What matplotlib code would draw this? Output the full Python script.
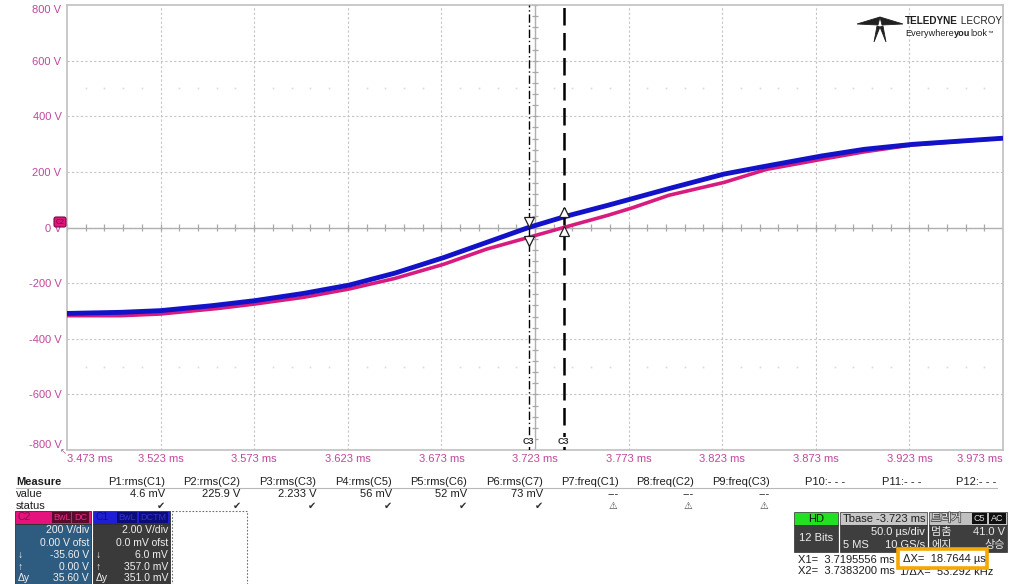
import numpy as np
import matplotlib
matplotlib.use("Agg")
import matplotlib.pyplot as plt
import matplotlib.patheffects as pe
from matplotlib.patches import Rectangle, FancyBboxPatch, Polygon

plt.rcParams['font.family'] = ['Liberation Sans', 'DejaVu Sans', 'Noto Sans CJK KR']

# ---- waveform data (time in ms, voltage in V) ----
c1_time = [3.473, 3.5018, 3.5229, 3.5506, 3.5734, 3.5994, 3.6238, 3.6482,
           3.6743, 3.6970, 3.7195556, 3.7393, 3.7620, 3.7751, 3.7946, 3.8239,
           3.8467, 3.8760, 3.8988, 3.9248, 3.9508, 3.973]
c1_volt = [-309, -305, -299, -281, -263, -237, -207, -164,
           -108, -54, 0, 40, 80, 104, 140, 192,
           221, 257, 281, 299, 311, 321]

c2_time = [3.473, 3.5018, 3.5229, 3.5538, 3.5734, 3.5994, 3.6238, 3.6482,
           3.6743, 3.6970, 3.7195556, 3.7383200, 3.7620, 3.7751, 3.7946, 3.8239,
           3.8467, 3.8760, 3.8988, 3.9248, 3.9508, 3.973]
c2_volt = [-317, -317, -311, -291, -275, -251, -221, -183,
           -132, -78, -35.6, 0.0, 44, 71, 116, 162,
           209, 245, 272, 297, 310, 321]

# cursors (ms)
cursor_x1 = 3.7195556
cursor_x2 = 3.7383200

x_ticks = [3.473, 3.523, 3.573, 3.623, 3.673, 3.723, 3.773, 3.823, 3.873, 3.923, 3.973]
y_ticks = [800, 600, 400, 200, 0, -200, -400, -600, -800]

meas_names = ["P1:rms(C1)", "P2:rms(C2)", "P3:rms(C3)", "P4:rms(C5)", "P5:rms(C6)",
              "P6:rms(C7)", "P7:freq(C1)", "P8:freq(C2)", "P9:freq(C3)",
              "P10:- - -", "P11:- - -", "P12:- - -"]
meas_values = ["4.6 mV", "225.9 V", "2.233 V", "56 mV", "52 mV", "73 mV",
               "---", "---", "---", "", "", ""]
meas_status = ["ok", "ok", "ok", "ok", "ok", "ok", "warn", "warn", "warn", "", "", ""]

# ---- colours ----
BLUE = "#1212c8"
PINK = "#d81b7e"
LABEL = "#c2479b"
GRID = "#c4c4c4"

W, H = 1011, 584
fig = plt.figure(figsize=(W / 100, H / 100), dpi=100)
fig.patch.set_facecolor("white")

L, R, T, B = 67, 1003, 5, 450
ax = fig.add_axes([L / W, (H - B) / H, (R - L) / W, (B - T) / H])
ax.set_xlim(x_ticks[0], x_ticks[-1])
ax.set_ylim(-800, 800)
for s in ax.spines.values():
    s.set_color("#c0c0c0")
    s.set_linewidth(1.2)

ax.set_xticks(x_ticks)
ax.set_xticklabels([f"{t:.3f} ms" for t in x_ticks])
ax.set_yticks(y_ticks)
ax.set_yticklabels([f"{v} V" for v in y_ticks])
ax.tick_params(length=0, colors=LABEL, labelsize=8, pad=4)
ax.tick_params(axis='x', pad=3)
xl = ax.get_xticklabels()
xl[0].set_ha("left")
xl[-1].set_ha("right")
yl = ax.get_yticklabels()
yl[0].set_va("top")
yl[-1].set_va("bottom")

# grid
for t in x_ticks[1:-1]:
    ax.axvline(t, color=GRID, lw=0.8, ls=(0, (2, 2)), zorder=0)
for v in y_ticks[1:-1]:
    ax.axhline(v, color=GRID, lw=0.8, ls=(0, (2, 2)), zorder=0)

# centre axes with minor ticks
xc = x_ticks[5]
ax.axhline(0, color="#b0b0b0", lw=1.0, zorder=0.5)
ax.axvline(xc, color="#b0b0b0", lw=1.0, zorder=0.5)
minor_t = np.arange(x_ticks[0], x_ticks[-1] + 1e-9, 0.01)
ax.vlines(minor_t, -13, 13, color="#a8a8a8", lw=0.9, zorder=0.5)
minor_v = np.arange(-800, 801, 40)
ax.hlines(minor_v, xc - 0.0018, xc + 0.0018, color="#a8a8a8", lw=0.9, zorder=0.5)

# faint dot rows
dot_t = [t for t in minor_t if min(abs(t - g) for g in x_ticks) > 1e-6]
for v in (500, -500):
    ax.plot(dot_t, [v] * len(dot_t), ls="none", marker="s", ms=1.2,
            color="#d8d8d8", mew=0, zorder=0)

# traces
ax.plot(c2_time, c2_volt, color=PINK, lw=2.6, solid_capstyle="butt", zorder=3)
ax.plot(c1_time, c1_volt, color=BLUE, lw=3.5, solid_capstyle="butt", zorder=4)

# cursors
ax.axvline(cursor_x1, color="black", lw=1.0, ls=(0, (6, 2, 1, 2)), zorder=5)
ax.axvline(cursor_x2, color="black", lw=1.8, ls=(0, (7, 3)), zorder=5)
for cx, mk in ((cursor_x1, "v"), (cursor_x2, "^")):
    ax.text(cx, -770, "C3", ha="center", va="center", fontsize=6.5,
            fontweight="bold", color="#303030", zorder=6,
            bbox=dict(fc="white", ec="none", pad=0.3))
    vb = np.interp(cx, c1_time, c1_volt)
    vp = np.interp(cx, c2_time, c2_volt)
    ax.plot([cx], [vb + 18], marker=mk, ms=7, mfc="white", mec="#202020", mew=0.9, zorder=7)
    ax.plot([cx], [vp - 14], marker=mk, ms=7, mfc="white", mec="#202020", mew=0.9, zorder=7)

# ---- overlay in pixel coordinates ----
ov = fig.add_axes([0, 0, 1, 1], zorder=10)
ov.set_xlim(0, W)
ov.set_ylim(H, 0)
ov.axis("off")
ov.patch.set_alpha(0)
renderer = fig.canvas.get_renderer()


def run_text(x, y, parts, **kw):
    """Draw text pieces side by side, each with its own weight/size."""
    for s, weight, size in parts:
        t = ov.text(x, y, s, fontsize=size, fontweight=weight, va="center", **kw)
        bb = t.get_window_extent(renderer)
        x = ov.transData.inverted().transform((bb.x1, bb.y0))[0]


# channel marker on the zero line
ov.add_patch(FancyBboxPatch((54, 217), 12, 10, boxstyle="round,pad=0,rounding_size=2",
                            fc="#e0157e", ec="#7a0a40", lw=0.8))
ov.text(60, 222, "C2", fontsize=5, color="#6a0838", ha="center", va="center")
ov.text(63, 453, "↖", fontsize=6, color=LABEL, ha="center", va="center")

# logo
logo = [
    [(880, 17), (857, 24), (878, 25)],
    [(880, 17), (903, 24), (882, 25)],
    [(877, 26), (874, 42), (880, 27)],
    [(883, 26), (886, 42), (880, 27)],
]
for p in logo:
    ov.add_patch(Polygon(p, closed=True, fc="#202020", ec="#202020", lw=0.6))
run_text(905, 21, [("TELEDYNE", "bold", 7.2), (" LECROY", "normal", 7.2)], color="#202020")
run_text(905, 33, [("Everywhere", "normal", 6.6), ("you", "bold", 6.6),
                   ("look", "normal", 6.6), ("™", "normal", 4)], color="#202020")

# measurement table
TXT = "#1e1e1e"
ov.text(16, 482, "Measure", fontsize=8, fontweight="bold", color=TXT, va="center")
ov.text(16, 494, "value", fontsize=8, color=TXT, va="center")
ov.text(16, 506, "status", fontsize=8, color=TXT, va="center")
ov.plot([16, 997], [488, 488], color="#b8b8b8", lw=0.8)
col_end = 165 + 75.6 * np.arange(len(meas_names))
for xe, n, v, s in zip(col_end, meas_names, meas_values, meas_status):
    ov.text(xe, 482, n, fontsize=8, color=TXT, ha="right", va="center")
    if v:
        ov.text(xe, 494, v, fontsize=8, color=TXT, ha="right", va="center")
    if s == "ok":
        ov.text(xe - 4, 506, "✔", fontsize=7, color="#303030", ha="center", va="center",
                family="DejaVu Sans")
    elif s == "warn":
        ov.text(xe - 6, 506, "⚠", fontsize=7, color="#404040", ha="center", va="center",
                family="DejaVu Sans")

# channel descriptor boxes
c2_x1 = np.interp(cursor_x1, c2_time, c2_volt)
c2_x2 = np.interp(cursor_x2, c2_time, c2_volt)


def channel_box(x0, x1, head_fc, head_txt, body_fc, name, badges, rows):
    ov.add_patch(Rectangle((x0, 511), x1 - x0, 13, fc=head_fc, ec="#303030", lw=0.6))
    ov.add_patch(Rectangle((x0, 524), x1 - x0, 64, fc=body_fc, ec="#303030", lw=0.6))
    ov.text(x0 + 3, 517.5, name, fontsize=7.5, color=head_txt, va="center")
    for (bx0, bx1, label, bfc, btc) in badges:
        ov.add_patch(Rectangle((bx0, 512), bx1 - bx0, 11, fc=bfc, ec="none"))
        ov.text((bx0 + bx1) / 2, 517.5, label, fontsize=6.5, color=btc, ha="center", va="center")
    ys = [530, 543, 555, 567, 578]
    for y, (sym, val) in zip(ys, rows):
        if sym:
            ov.text(x0 + 3, y, sym, fontsize=7.5, color="#f0f0f0", va="center")
        ov.text(x1 - 2, y, val, fontsize=7.5, color="#f0f0f0", ha="right", va="center")


channel_box(15, 91, "#e6137f", "#8a0a46", "#2e5b80", "C2",
            [(52, 71, "BwL", "#5a0a2c", "#f02a8a"), (72, 89, "DC", "#5a0a2c", "#f02a8a")],
            [("", "200 V/div"), ("", "0.00 V ofst"), ("↓", f"{c2_x1:.2f} V"),
             ("↑", f"{c2_x2:.2f} V"), ("Δy", f"{abs(c2_x2 - c2_x1):.2f} V")])
channel_box(93, 170, "#1e1ed4", "#0c0c90", "#3a3a3a", "C1",
            [(117, 137, "BwL", "#0c0c78", "#3030d8"), (139, 168, "DCTM", "#0c0c78", "#3030d8")],
            [("", "2.00 V/div"), ("", "0.0 mV ofst"), ("↓", "6.0 mV"),
             ("↑", "357.0 mV"), ("Δy", "351.0 mV")])
ov.add_patch(Rectangle((172, 511), 75, 80, fc="none", ec="#707070", lw=0.8, ls=(0, (1.5, 1.5))))

# acquisition / timebase / trigger panel
ov.add_patch(Rectangle((794, 512), 44, 13, fc="#22e022", ec="#303030", lw=0.5))
ov.text(816, 518.5, "HD", fontsize=8, color="#101010", ha="center", va="center")
ov.add_patch(Rectangle((794, 525), 44, 27, fc="#3e3e3e", ec="#303030", lw=0.5))
ov.text(816, 538, "12 Bits", fontsize=8, color="#f0f0f0", ha="center", va="center")

ov.add_patch(Rectangle((840, 512), 87, 13, fc="#c6c6c6", ec="#303030", lw=0.5))
ov.text(843, 518.5, "Tbase", fontsize=8, color="#202020", va="center")
ov.text(925, 518.5, "-3.723 ms", fontsize=8, color="#202020", ha="right", va="center")
ov.add_patch(Rectangle((840, 525), 87, 27, fc="#3e3e3e", ec="#303030", lw=0.5))
ov.text(925, 532, "50.0 µs/div", fontsize=8, color="#f0f0f0", ha="right", va="center")
ov.text(843, 545, "5 MS", fontsize=8, color="#f0f0f0", va="center")
ov.text(925, 545, "10 GS/s", fontsize=8, color="#f0f0f0", ha="right", va="center")

ov.add_patch(Rectangle((929, 512), 78, 13, fc="#c0c0c0", ec="#303030", lw=0.5))
ov.text(931, 518.5, "트리거", fontsize=8, color="#f4f4f4", va="center",
        family=["Noto Sans CJK KR", "DejaVu Sans"],
        path_effects=[pe.withStroke(linewidth=1.2, foreground="#505050")])
ov.add_patch(Rectangle((972, 513), 15, 11, fc="#101010", ec="none"))
ov.text(979.5, 518.5, "C5", fontsize=6.5, color="#e0e0e0", ha="center", va="center")
ov.add_patch(Rectangle((989, 513), 17, 11, fc="#101010", ec="none"))
ov.text(997.5, 518.5, "AC", fontsize=6.5, color="#e0e0e0", ha="center", va="center")
ov.add_patch(Rectangle((929, 525), 78, 27, fc="#3e3e3e", ec="#303030", lw=0.5))
ov.text(931, 532, "멈춤", fontsize=8, color="#e8e8e8", va="center",
        family=["Noto Sans CJK KR", "DejaVu Sans"])
ov.text(1005, 532, "41.0 V", fontsize=8, color="#e8e8e8", ha="right", va="center")
ov.text(931, 545, "에지", fontsize=8, color="#e8e8e8", va="center",
        family=["Noto Sans CJK KR", "DejaVu Sans"])
ov.text(1005, 545, "상승", fontsize=8, color="#e8e8e8", ha="right", va="center",
        family=["Noto Sans CJK KR", "DejaVu Sans"])

# cursor readouts
dx_ms = cursor_x2 - cursor_x1
ov.text(798, 560, f"X1=  {cursor_x1:.7f} ms", fontsize=8, color=TXT, va="center")
ov.text(798, 571, f"X2=  {cursor_x2:.7f} ms", fontsize=8, color=TXT, va="center")
ov.text(900, 572, f"1/ΔX=  {1.0 / dx_ms:.3f} kHz", fontsize=8, color=TXT, va="center")
ov.add_patch(Rectangle((898, 549), 89, 19, fc="white", ec="#f5a800", lw=2.6, zorder=5))
ov.text(903, 559, f"ΔX=  {dx_ms * 1000:.4f} µs", fontsize=8, color=TXT, va="center", zorder=6)

fig.savefig("out.png", dpi=100, facecolor="white")
